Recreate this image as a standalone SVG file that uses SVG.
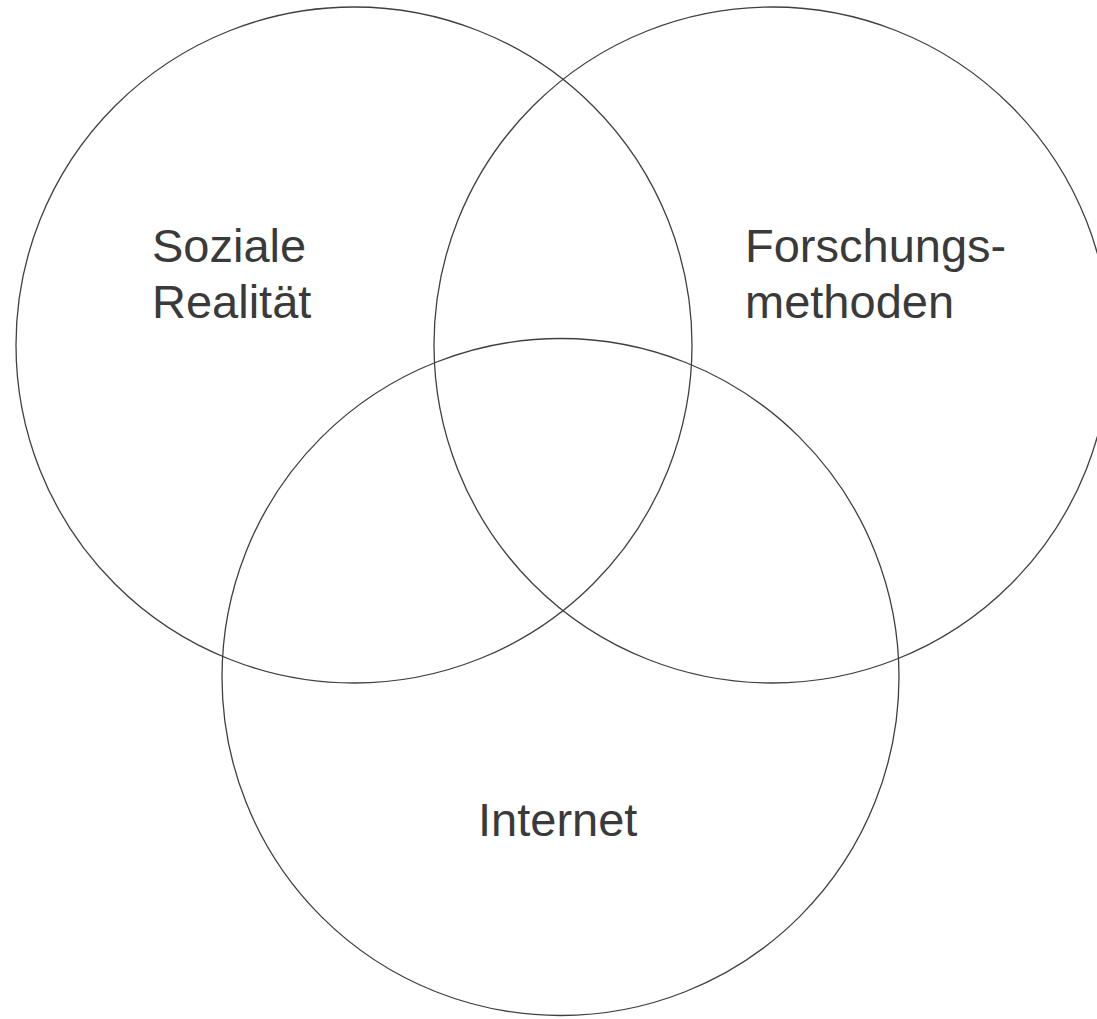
<svg xmlns="http://www.w3.org/2000/svg" width="1097" height="1019" viewBox="0 0 1097 1019">
<style>
.c{fill:none;stroke:#404040;stroke-width:1.3}
.t{font-family:"Liberation Sans",Arial,sans-serif;font-size:47px;fill:#3a3a3a}
</style>
<rect width="1097" height="1019" fill="#fff"/>
<g id="soziale">
<circle class="c" cx="354" cy="345" r="338"/>
<text class="t" x="152" y="262">Soziale</text>
<text class="t" x="152" y="318">Realität</text>
</g>
<g id="forschung">
<circle class="c" cx="772" cy="345" r="338"/>
<text class="t" x="745" y="262">Forschungs-</text>
<text class="t" x="745" y="318">methoden</text>
</g>
<g id="internet">
<circle class="c" cx="560.5" cy="677" r="338.5"/>
<text class="t" x="478" y="836">Internet</text>
</g>
<g id="connectors"></g>
</svg>
